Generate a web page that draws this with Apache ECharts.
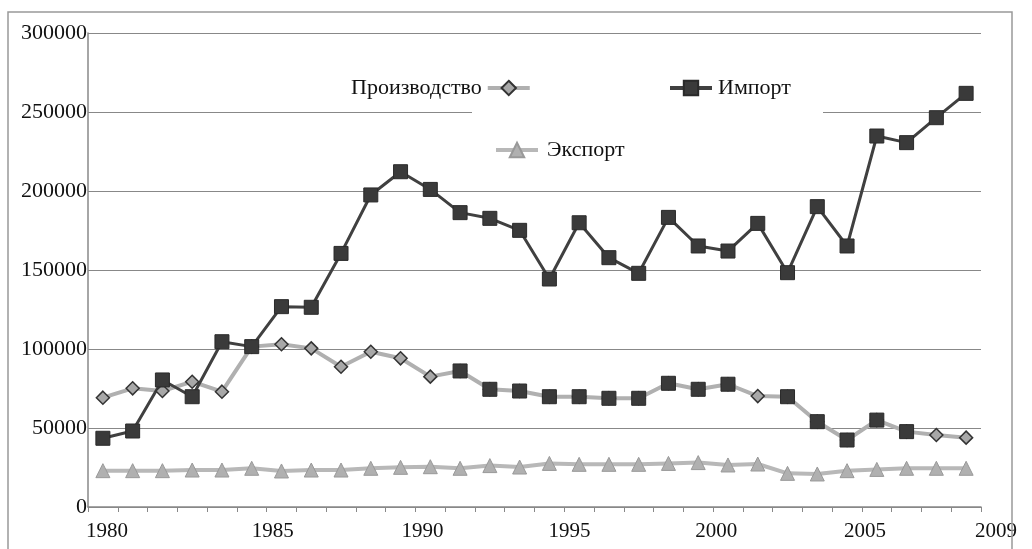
<!DOCTYPE html>
<html>
<head>
<meta charset="utf-8">
<script src="https://cdn.jsdelivr.net/npm/echarts@6/dist/echarts.min.js"></script>
<style>
  html, body { margin: 0; padding: 0; background: #fff; }
  #chart { width: 1032px; height: 549px; }
</style>
</head>
<body>
<div id="chart"></div>
<script>
  // годы по оси X
  var years = []
  for (var y = 1980; y <= 2009; y++) years.push(String(y))
  var yearLabels = ['1980', '1985', '1990', '1995', '2000', '2005', '2009']

  var production = [69200, 75100, 73400, 79300, 73000, 101500, 103000, 100400, 88800, 98300,
    94100, 82500, 86100, 74500, 73400, 69800, 69800, 68800, 68800, 78300,
    74500, 77700, 70200, 69800, 54000, 42400, 55000, 47700, 45600, 43900]
  var imports = [43500, 48100, 80400, 69800, 104600, 101500, 126800, 126400, 160500, 197500,
    212200, 201000, 186300, 182700, 175100, 144300, 179900, 157800, 147900, 183300,
    165200, 162000, 179500, 148300, 190100, 165200, 234800, 230600, 246400, 261800]
  var exports = [23000, 23000, 23000, 23400, 23400, 24500, 22800, 23400, 23400, 24500,
    25100, 25500, 24500, 26200, 25300, 27600, 27000, 27000, 27000, 27600,
    28100, 26600, 27200, 21300, 20900, 23000, 23800, 24500, 24500, 24500]
  // точки линии «Производство», отмеченные на оригинале тёмными квадратами
  var prodSquareIdx = [12, 13, 14, 15, 16, 17, 18, 19, 20, 21, 23, 24, 25, 26, 27]

  var prodSquares = production.map(function (v, i) {
    return prodSquareIdx.indexOf(i) >= 0 ? v : null
  })

  var serif = '"Liberation Serif", "DejaVu Serif", serif'
  // сдвиг подписей оси X (как в оригинале)
  var rich = {}
  var shifts = [4, 21, 22, 20, 18, 18, 30]
  shifts.forEach(function (s, i) {
    rich['s' + i] = { fontFamily: serif, fontSize: 21, color: '#111', padding: [0, 0, 0, s * 2] }
  })

  var legendText = { fontFamily: serif, fontSize: 22, color: '#111' }

  var chart = echarts.init(document.getElementById('chart'))
  var option = {
    animation: false,
    backgroundColor: '#fff',
    grid: { left: 88, right: 51, top: 33, bottom: 42 },
    legend: [{
      data: ['Производство'],
      left: 346,
      top: 72,
      align: 'right',
      itemWidth: 42,
      itemHeight: 18,
      lineStyle: { width: 4 },
      textStyle: Object.assign({ padding: [0, 1, 0, 0] }, legendText)
    }, {
      data: ['Импорт'],
      left: 663,
      top: 72,
      itemWidth: 42,
      itemHeight: 18,
      lineStyle: { width: 4 },
      textStyle: Object.assign({ padding: [0, 0, 0, 1] }, legendText)
    }, {
      data: ['Экспорт'],
      left: 489,
      top: 134,
      itemWidth: 42,
      itemHeight: 18,
      lineStyle: { width: 4 },
      textStyle: Object.assign({ padding: [0, 0, 0, 4] }, legendText)
    }],
    graphic: [{
      type: 'rect',
      z: 1,
      shape: { x: 472, y: 55, width: 351, height: 105 },
      style: { fill: '#fff' }
    }, {
      type: 'rect',
      z: 100,
      shape: { x: 8, y: 12, width: 1004, height: 560 },
      style: { fill: 'none', stroke: '#999', lineWidth: 1.5 }
    }],
    xAxis: {
      type: 'category',
      data: years,
      boundaryGap: true,
      axisLine: { lineStyle: { color: '#888', width: 1.5 } },
      axisTick: { show: true, interval: 0, length: 5, lineStyle: { color: '#888' } },
      axisLabel: {
        margin: 14,
        interval: function (i, v) { return yearLabels.indexOf(v) >= 0 },
        formatter: function (v) { return '{s' + yearLabels.indexOf(v) + '|' + v + '}' },
        rich: rich
      }
    },
    yAxis: {
      type: 'value',
      min: 0,
      max: 300000,
      interval: 50000,
      axisLine: { show: true, lineStyle: { color: '#888', width: 1.5 } },
      axisTick: { show: false },
      axisLabel: {
        margin: 1,
        fontFamily: serif,
        fontSize: 22,
        color: '#111',
        formatter: function (v) { return String(v) }
      },
      splitLine: { lineStyle: { color: '#888', width: 1.2 } }
    },
    series: [{
      name: 'Экспорт',
      type: 'line',
      data: exports,
      symbol: 'triangle',
      symbolSize: 14,
      lineStyle: { color: '#b8b8b8', width: 4 },
      itemStyle: { color: '#b0b0b0', borderColor: '#999', borderWidth: 1 }
    }, {
      name: 'Производство',
      type: 'line',
      data: production,
      symbol: 'diamond',
      symbolSize: 13,
      lineStyle: { color: '#b0b0b0', width: 4 },
      itemStyle: { color: '#a8a8a8', borderColor: '#333', borderWidth: 1.5 }
    }, {
      name: 'Импорт',
      type: 'line',
      data: imports,
      symbol: 'rect',
      symbolSize: 14,
      lineStyle: { color: '#404040', width: 3 },
      itemStyle: { color: '#3a3a3a', borderColor: '#2a2a2a', borderWidth: 1 }
    }, {
      name: 'prodSquares',
      type: 'line',
      data: prodSquares,
      symbol: 'rect',
      symbolSize: 14,
      showSymbol: true,
      connectNulls: false,
      lineStyle: { opacity: 0 },
      itemStyle: { color: '#3a3a3a', borderColor: '#2a2a2a', borderWidth: 1 }
    }]
  }
  chart.setOption(option)
</script>
</body>
</html>
